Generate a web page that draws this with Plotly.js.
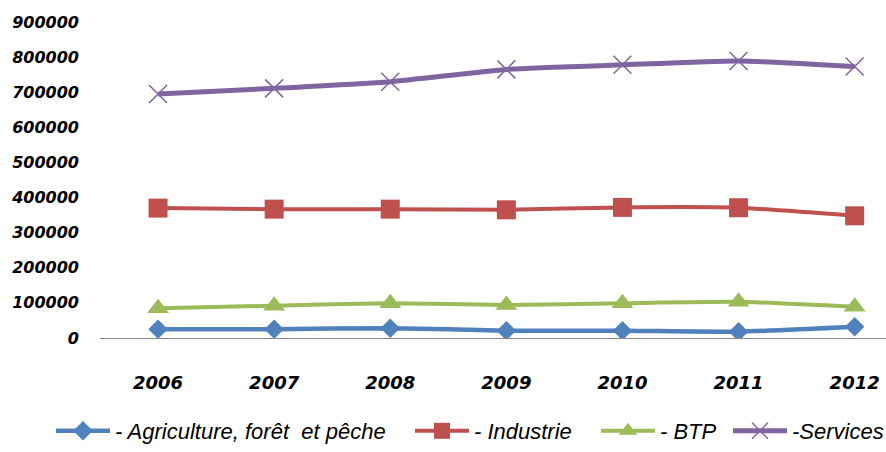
<!DOCTYPE html>
<html>
<head>
<meta charset="utf-8">
<script src="https://cdn.plot.ly/plotly-3.0.1.min.js"></script>
<style>html,body{margin:0;padding:0;background:#fff;}#chart{width:886px;height:452px;}</style>
</head>
<body>
<div id="chart"></div>
<script>
const years = ['2006','2007','2008','2009','2010','2011','2012'];
const seriesNames = ['- Agriculture, forêt  et pêche', '- Industrie', '- BTP', '-Services'];
const agriculture = [25000, 25000, 28000, 21000, 21000, 18000, 32000];
const industrie = [370000, 367000, 367000, 365000, 372000, 371000, 348000];
const btp = [85000, 92000, 99000, 94000, 99000, 103000, 89000];
const services = [695000, 711000, 730000, 765000, 778000, 789000, 773000];
const yTicks = [0,100000,200000,300000,400000,500000,600000,700000,800000,900000];

const styles = [
  {color:'#4F81BD', symbol:'diamond', size:15, lw:4.5},
  {color:'#C0504D', symbol:'square', size:19, lw:4},
  {color:'#9BBB59', symbol:'triangle-up', size:19, lw:4},
  {color:'#8064A2', symbol:'x-thin-open', size:18, lw:5}
];
const legendIds = ['legend','legend2','legend3','legend4'];
const legendX = [51, 410, 596, 728];
const values = [agriculture, industrie, btp, services];
const traces = values.map((v,i)=>({
  x: years, y: v, name: seriesNames[i], type:'scatter', mode:'lines+markers',
  legend: legendIds[i],
  line:{color:styles[i].color, width:styles[i].lw, shape:'spline', smoothing:0.5},
  marker:{symbol:styles[i].symbol, size:styles[i].size, color:styles[i].color,
    line:{color: i===3 ? '#B3A2C7' : styles[i].color, width: i===3 ? 1.5 : 0}}
}));

const layout = {
  width:886, height:452,
  margin:{l:100, r:0, t:22, b:114, autoexpand:false},
  paper_bgcolor:'#fff', plot_bgcolor:'#fff',
  showlegend:true,
  xaxis:{type:'category', range:[-0.5, 6.27], showgrid:false, zeroline:false,
    showline:true, linecolor:'#888', linewidth:1, ticks:'',
    ticklabelstandoff:28,
    tickfont:{family:'DejaVu Sans, Verdana, sans-serif', size:18, color:'#000', weight:'bold', style:'italic'}},
  yaxis:{range:[0,900000], tickvals:yTicks, ticktext:yTicks.map(String), showgrid:false,
    zeroline:false, showline:false, ticks:'', ticklabelstandoff:20,
    tickfont:{family:'DejaVu Sans, Verdana, sans-serif', size:16, color:'#000', weight:'bold', style:'italic'}}
};
legendIds.forEach((id,i)=>{
  layout[id] = {orientation:'h', xref:'container', yref:'container',
    x:legendX[i]/886, xanchor:'left', y:-0.022, yanchor:'bottom',
    font:{family:'Liberation Sans, Arial, sans-serif', size:22, color:'#000', style:'italic'},
    itemwidth:54, bgcolor:'rgba(0,0,0,0)'};
});
Plotly.newPlot('chart', traces, layout, {displayModeBar:false, staticPlot:true});
</script>
</body>
</html>
